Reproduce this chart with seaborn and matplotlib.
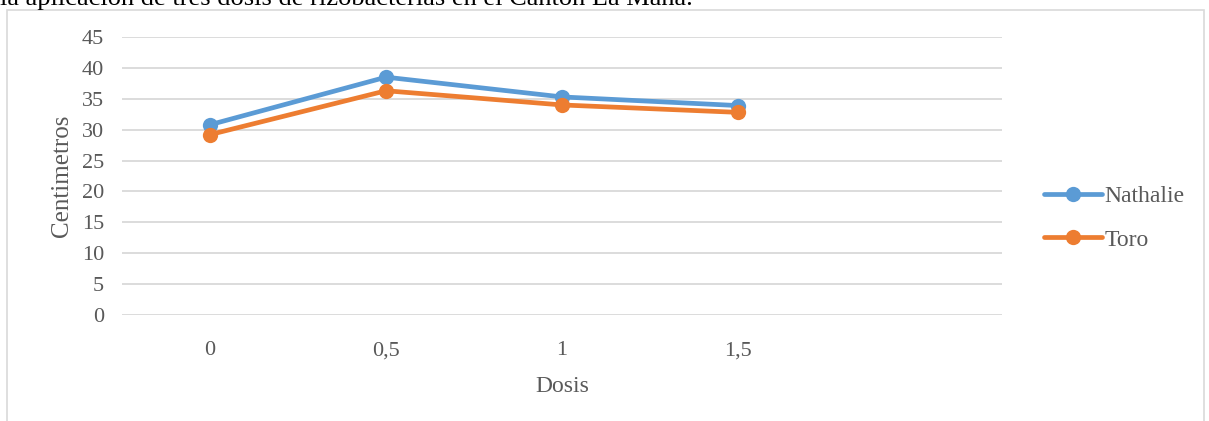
import matplotlib
matplotlib.use("Agg")
import matplotlib.pyplot as plt
import seaborn as sns
import pandas as pd
from matplotlib.patches import Rectangle
from matplotlib.lines import Line2D

# Data
dosis = ["0", "0,5", "1", "1,5"]
nathalie = [30.8, 38.5, 35.3, 33.9]
toro = [29.2, 36.3, 34.0, 32.8]
series_names = ["Nathalie", "Toro"]
colors = ["#5B9BD5", "#ED7D31"]
y_ticks = [0, 5, 10, 15, 20, 25, 30, 35, 40, 45]

sns.set_theme(style="white")
plt.rcParams["font.family"] = ["Liberation Serif", "DejaVu Serif"]

df = pd.DataFrame({
    "pos": list(range(len(dosis))) * 2,
    "valor": nathalie + toro,
    "serie": [series_names[0]] * len(dosis) + [series_names[1]] * len(dosis),
})

fig = plt.figure(figsize=(12.09, 4.21), dpi=100)
ax = fig.add_axes([122 / 1209, 1 - 315 / 421, 880 / 1209, 278 / 421])

# Outer chart frame
fig.patches.append(Rectangle((7 / 1209, -0.05), 1197 / 1209, 1 - 10 / 421 + 0.05,
                             transform=fig.transFigure, fill=False,
                             edgecolor="#D9D9D9", linewidth=1.2, zorder=0))

sns.lineplot(data=df, x="pos", y="valor", hue="serie", palette=colors,
             marker="o", markersize=11, markeredgewidth=0, linewidth=3.4,
             ax=ax, legend=False, zorder=3)

ax.set_xlim(-0.5, 4.5)
ax.set_ylim(0, 45)
ax.set_yticks(y_ticks)
ax.set_xticks(range(len(dosis)))
ax.set_xticklabels(dosis)
ax.yaxis.grid(True, color="#D9D9D9", linewidth=1.3)
ax.xaxis.grid(False)
for s in ax.spines.values():
    s.set_visible(False)
ax.tick_params(axis="both", length=0, labelsize=16, labelcolor="#595959")
ax.tick_params(axis="x", pad=19)
ax.tick_params(axis="y", pad=13)
ax.set_xlabel("Dosis", fontsize=17, color="#595959", labelpad=11)
ax.set_ylabel("Centimetros", fontsize=18, color="#595959", labelpad=6)

handles = [Line2D([0], [0], color=c, linewidth=3.4, marker="o", markersize=11,
                  markeredgewidth=0) for c in colors]
fig.legend(handles, series_names, loc="center left",
           bbox_to_anchor=(1023 / 1209, 1 - 218 / 421), frameon=False,
           fontsize=17, labelcolor="#595959", handlelength=2.45,
           handletextpad=0.1, labelspacing=0.95)

fig.text(0.0, 1 - 5 / 421, "la aplicación de tres dosis de rizobacterias en el Cantón La Maná.",
         fontsize=19, color="black", va="baseline", ha="left")

fig.savefig("out.png", dpi=100)
